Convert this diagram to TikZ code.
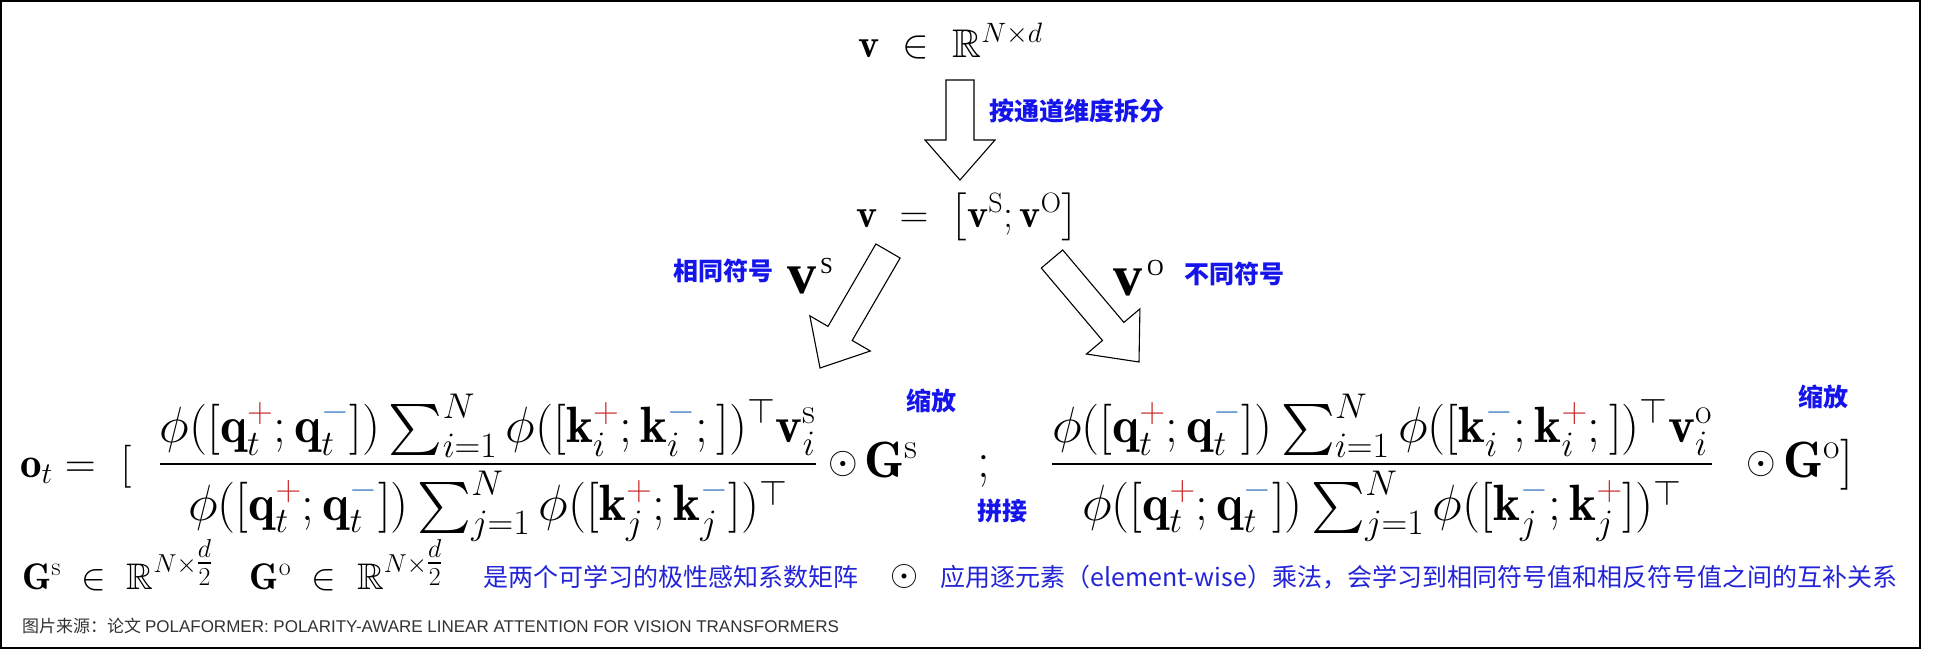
\RequirePackage{fix-cm}
\documentclass[tikz,border=0pt]{standalone}
\usepackage{amsmath,amssymb}
\usepackage{fontspec}
\newfontfamily\cjk{Noto Sans CJK SC}
\newfontfamily\arial{Liberation Sans}
\newfontfamily\timesfont{Liberation Serif}
\usetikzlibrary{calc}
\definecolor{lblblue}{RGB}{20,20,235}
\definecolor{txtblue}{RGB}{35,35,215}
\definecolor{plusred}{RGB}{200,45,45}
\definecolor{minusblue}{RGB}{70,130,200}
\definecolor{srcgray}{RGB}{50,50,50}
\newcommand{\redplus}{{\color{plusred}+}}
\newcommand{\blueminus}{{\color{minusblue}-}}
\newcommand{\qpair}{\phi([\mathbf{q}_t^{\redplus};\mathbf{q}_t^{\blueminus}])}
% block arrow from a start coordinate to a tip coordinate
\newcommand{\blockarrow}[2]{%
  \draw[blockarr] ($(#1)!14pt!90:(#2)$) -- ($($(#2)!40pt!(#1)$)!14pt!-90:(#1)$)
    -- ($($(#2)!40pt!(#1)$)!35pt!-90:(#1)$) -- (#2)
    -- ($($(#2)!40pt!(#1)$)!35pt!90:(#1)$) -- ($($(#2)!40pt!(#1)$)!14pt!90:(#1)$)
    -- ($(#1)!14pt!-90:(#2)$) -- cycle;}
\begin{document}
\begin{tikzpicture}[x=1pt, y=-1pt,
    mathtxt/.style={inner sep=0, font=\fontsize{40}{46}\selectfont},
    eqtxt/.style={inner sep=0, font=\fontsize{51}{58}\selectfont},
    smallmath/.style={inner sep=0, font=\fontsize{37}{42}\selectfont},
    dotop/.style={inner sep=0, font=\fontsize{38}{42}\selectfont},
    lbl/.style={inner sep=0, text=lblblue, font=\cjk\bfseries\fontsize{25}{28}\selectfont},
    note/.style={inner sep=0, text=txtblue, font=\cjk\fontsize{25}{28}\selectfont},
    bigv/.style={inner sep=0, font=\timesfont\fontsize{58}{60}\selectfont},
    blockarr/.style={draw=black, fill=white, line width=1.1pt, line join=miter}]
  \useasboundingbox (0,0) rectangle (1940,651);
  \draw[line width=2pt] (1,1) rectangle (1920,648);

  % input and split
  \node[mathtxt, anchor=base west] (vin) at (858,57) {$\mathbf{v}\ \in\ \mathbb{R}^{N\times d}$};
  \node[mathtxt, anchor=base west] (vsplit) at (856,227)
    {$\mathbf{v}\;=\;\bigl[\mathbf{v}^{\mathrm{S}};\mathbf{v}^{\mathrm{O}}\bigr]$};
  \coordinate (downS) at (960,80);
  \coordinate (downE) at (960,180);
  \blockarrow{downS}{downE}
  \node[lbl, anchor=west] (splitlbl) at (989,111) {按通道维度拆分};

  % two branches
  \coordinate (leftS) at (888,251);
  \coordinate (leftE) at (820,368);
  \coordinate (rightS) at (1052,259);
  \coordinate (rightE) at (1139,362);
  \blockarrow{leftS}{leftE}
  \blockarrow{rightS}{rightE}
  \node[lbl, anchor=west] (samelbl) at (673,271) {相同符号};
  \node[bigv, anchor=base west] (vs) at (787,293)
    {\textbf{v}\hspace{4pt}\raisebox{20pt}{\fontsize{23}{24}\selectfont S}};
  \node[bigv, anchor=base west] (vo) at (1113,295)
    {\textbf{v}\hspace{5pt}\raisebox{20pt}{\fontsize{23}{24}\selectfont O}};
  \node[lbl, anchor=west] (difflbl) at (1184,274) {不同符号};

  % output formula
  \node[inner sep=0, font=\fontsize{43}{48}\selectfont, anchor=base west] (lhs) at (20,477) {$\mathbf{o}_t=\ [$};
  \node[eqtxt, anchor=base] (fracS) at (488,477) {$\displaystyle
    \frac{\qpair\sum_{i=1}^{N}\phi([\mathbf{k}_i^{\redplus};\mathbf{k}_i^{\blueminus};])^{\top}\mathbf{v}_i^{\mathrm{s}}}
         {\qpair\sum_{j=1}^{N}\phi([\mathbf{k}_j^{\redplus};\mathbf{k}_j^{\blueminus}])^{\top}}$};
  \node[dotop] (odotS) at (843,464) {$\odot$};
  \node[eqtxt, anchor=base west] (gS) at (864,477) {$\mathbf{G}^{\mathrm{s}}$};
  \node[eqtxt, anchor=base west] (semi) at (977,477) {$;$};
  \node[eqtxt, anchor=base] (fracO) at (1382,477) {$\displaystyle
    \frac{\qpair\sum_{i=1}^{N}\phi([\mathbf{k}_i^{\blueminus};\mathbf{k}_i^{\redplus};])^{\top}\mathbf{v}_i^{\mathrm{o}}}
         {\qpair\sum_{j=1}^{N}\phi([\mathbf{k}_j^{\blueminus};\mathbf{k}_j^{\redplus}])^{\top}}$};
  \node[dotop] (odotO) at (1761,464) {$\odot$};
  \node[eqtxt, anchor=base west] (gO) at (1783,477) {$\mathbf{G}^{\mathrm{o}}]$};
  \node[lbl] (scaleS) at (931,401) {缩放};
  \node[lbl] (scaleO) at (1823,397) {缩放};
  \node[lbl] (concat) at (1002,511) {拼接};

  % legend
  \node[smallmath, anchor=base west] (gdef) at (22,589)
    {$\mathbf{G}^{\mathrm{s}}\;\in\;\mathbb{R}^{N\times{\textstyle\frac{d}{2}}}\quad
      \mathbf{G}^{\mathrm{o}}\;\in\;\mathbb{R}^{N\times{\textstyle\frac{d}{2}}}$};
  \node[note, anchor=west] (gnote) at (483,577) {是两个可学习的极性感知系数矩阵};
  \node[inner sep=0, font=\fontsize{36}{40}\selectfont] (odot) at (904,576) {$\odot$};
  \node[note, anchor=west] (odotnote) at (940,577) {应用逐元素（element-wise）乘法，会学习到相同符号值和相反符号值之间的互补关系};
  \node[inner sep=0, text=srcgray, font=\cjk\fontsize{17}{19}\selectfont, anchor=west] (source) at (22,626)
    {图片来源：论文 {\arial POLAFORMER: POLARITY-AWARE LINEAR ATTENTION FOR VISION TRANSFORMERS}};
\end{tikzpicture}
\end{document}
